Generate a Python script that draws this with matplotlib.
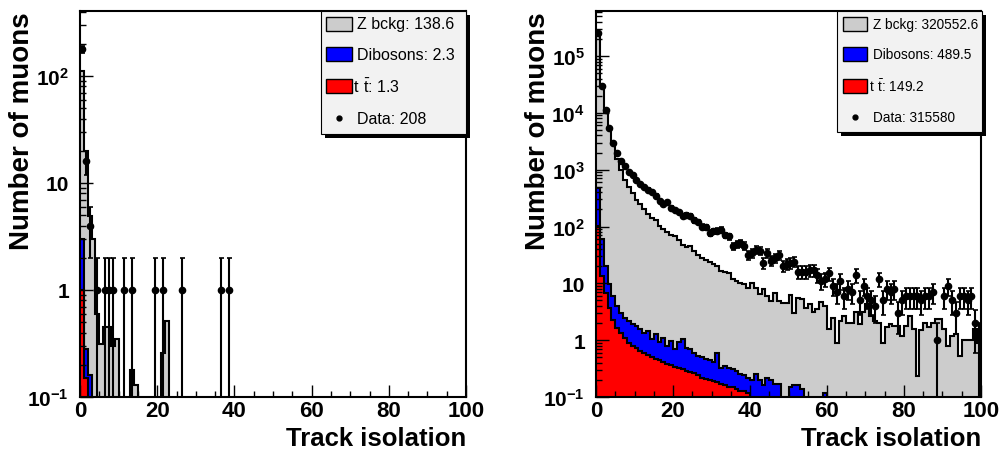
import numpy as np
import matplotlib
matplotlib.use('Agg')
import matplotlib.pyplot as plt
from matplotlib.patches import Rectangle
from matplotlib.lines import Line2D
from matplotlib.ticker import MultipleLocator, LogLocator, NullFormatter, FuncFormatter

plt.rcParams['font.family'] = ['Liberation Sans', 'DejaVu Sans']
plt.rcParams['font.weight'] = 'bold'
plt.rcParams['mathtext.fontset'] = 'custom'
plt.rcParams['mathtext.rm'] = 'Liberation Sans:normal'
plt.rcParams['mathtext.bf'] = 'Liberation Sans:bold'

edges = np.arange(0, 101, 1.0)   # 100 bins, width 1

# ---- left panel (sparse: bin index -> value)
left_data_bins = [0, 1, 2, 4, 6, 7, 8, 11, 13, 19, 21, 26, 36, 38]
left_data_vals = [177, 16, 4, 1, 1, 1, 1, 1, 1, 1, 1, 1, 1, 1]
left_z_bins = [0, 1, 2, 3, 4, 5, 6, 7, 8, 9, 13, 14, 21, 22]
left_z_vals = [108, 19.7, 4.8, 3.0, 0.6, 0.31, 0.45, 0.45, 0.3, 0.35, 0.18, 0.13, 0.26, 0.51]
left_dib_bins = [0, 1, 2]
left_dib_vals = [2.0, 0.13, 0.16]
left_tt_bins = [0, 1]
left_tt_vals = [1.0, 0.15]

# ---- right panel (all 100 bins)
right_data = [253000, 29700, 11300, 5400, 2930, 1960, 1440, 1140, 900, 816,
              667, 560, 496, 446, 400, 350, 278, 253, 267, 212,
              193, 178, 156, 162, 152, 129, 120, 100, 98, 77,
              83, 85, 87, 70, 67, 45, 49, 51, 46, 31,
              34, 39, 37, 23, 34, 25, 28, 31, 20, 22,
              23, 24, 16, 16, 16, 17, 17, 14, 11, 12,
              15, 9, 7, 11, 6, 8, 7, 14, 5, 9,
              6, 5, 4, 12, 5, 8, 7, 8, 3, 5,
              6, 6, 6, 6, 5, 6, 6, 7, 1, 0,
              6, 9, 5, 3, 6, 6, 5, 6, 2, 1]
right_zbckg = [264800, 30940, 10080, 5390, 2994, 1536, 997, 664, 494, 387,
               295, 251, 203, 167, 141, 128, 100, 90, 78, 71,
               67, 58, 47, 43, 44, 37, 30.5, 27.5, 25.5, 23.3,
               21.1, 19.4, 16.2, 15.4, 15.1, 11.5, 10.7, 10.0, 9.4, 7.9,
               9.8, 7.9, 6.2, 7.9, 5.8, 4.7, 6.7, 4.7, 4.6, 4.5,
               6.2, 2.9, 5.4, 5.1, 3.7, 4.3, 3.1, 3.6, 4.7, 3.9,
               1.6, 2.5, 0.9, 2.2, 2.7, 2.0, 2.0, 3.1, 1.9, 3.1,
               4.3, 2.7, 2.2, 2.0, 0.9, 1.7, 1.9, 1.8, 1.8, 1.2,
               1.8, 2.7, 1.6, 0.23, 1.5, 2.0, 1.7, 2.0, 2.4, 2.4,
               1.6, 0.8, 1.2, 1.3, 0.53, 1.0, 1.0, 1.0, 1.6, 0.9]
right_dibosons = [375, 47.5, 13.1, 5.9, 3.7, 2.3, 1.7, 1.4, 1.3, 1.1,
                  1.06, 0.91, 0.76, 0.9, 0.54, 0.8, 0.47, 0.69, 0.42, 0.62,
                  0.36, 0.59, 0.73, 0.45, 0.43, 0.34, 0.29, 0.28, 0.25, 0.24,
                  0.22, 0.41, 0.15, 0.19, 0.18, 0.16, 0.15, 0.12, 0.11, 0.10,
                  0.2, 0.25, 0.2, 0.16, 0.22, 0.2, 0.17, 0.17, 0, 0,
                  0.15, 0.16, 0.16, 0.14, 0, 0, 0, 0, 0, 0.12] + [0] * 40
right_ttbar = [101, 13.5, 6.9, 3.7, 2.3, 1.67, 1.36, 1.1, 0.9, 0.8,
               0.72, 0.65, 0.6, 0.55, 0.5, 0.47, 0.44, 0.41, 0.38, 0.36,
               0.34, 0.32, 0.31, 0.29, 0.27, 0.26, 0.24, 0.22, 0.21, 0.2,
               0.19, 0.18, 0.17, 0.16, 0.15, 0.15, 0.14, 0.13, 0.13, 0.12] + [0] * 60


def sparse(bins, vals):
    h = np.zeros(len(edges) - 1)
    h[bins] = vals
    return h


W, H = 1007, 456


def fig_rect(fig, x0, y0, x1, y1, **kw):
    # pixel coords measured from top-left
    r = Rectangle((x0 / W, 1 - y1 / H), (x1 - x0) / W, (y1 - y0) / H,
                  transform=fig.transFigure, **kw)
    fig.add_artist(r)


def ytick_fmt(v, pos):
    e = int(round(np.log10(v)))
    if e == 0:
        return '1'
    if e == 1:
        return '10'
    return r'$\mathbf{10^{%d}}$' % e


def draw_panel(ax, z, dib, tt, data, ymax):
    floor = 1e-3
    s1 = np.maximum(tt, floor)
    s2 = np.maximum(tt + dib, floor)
    s3 = np.maximum(tt + dib + z, floor)
    for s, col in ((s3, '#cccccc'), (s2, '#0000ff'), (s1, '#ff0000')):
        ax.stairs(s, edges, baseline=floor, fill=True, color=col, lw=0)
        ax.stairs(s, edges, baseline=None, color='black', lw=1.5)

    data = np.asarray(data, float)
    cen = 0.5 * (edges[:-1] + edges[1:])
    m = data > 0
    err = np.sqrt(data[m])
    ax.errorbar(cen[m], data[m], yerr=err, fmt='o', color='black', ms=4.5,
                elinewidth=1.5, capsize=1.8, capthick=1.2, zorder=3)

    ax.set_xlim(0, 100)
    ax.set_yscale('log')
    ax.set_ylim(0.1, ymax)
    ax.xaxis.set_major_locator(MultipleLocator(20))
    ax.xaxis.set_minor_locator(MultipleLocator(5))
    ax.yaxis.set_major_locator(LogLocator(base=10, numticks=20))
    ax.yaxis.set_minor_locator(LogLocator(base=10, subs=np.arange(2, 10), numticks=20))
    ax.yaxis.set_minor_formatter(NullFormatter())
    ax.yaxis.set_major_formatter(FuncFormatter(ytick_fmt))
    ax.tick_params(which='both', direction='in', top=False, right=False, width=1)
    ax.tick_params(which='major', length=9)
    ax.tick_params(which='minor', length=4.5)
    ax.tick_params(axis='x', labelsize=16, pad=2)
    ax.tick_params(axis='y', labelsize=15, pad=8)
    for sp in ax.spines.values():
        sp.set_linewidth(1.5)
    ax.text(1.0, -0.075, 'Track isolation', transform=ax.transAxes,
            ha='right', va='top', fontsize=18.5, fontweight='bold')
    ax.text(-0.15, 1.0, 'Number of muons', transform=ax.transAxes,
            ha='center', va='top', rotation=90, fontsize=20, fontweight='bold')


def draw_legend(fig, x0, x1, y1, sw_x0, sw_x1, txt_x, rows, labels, fs):
    y0 = 12
    fig_rect(fig, x0 + 4, y0 + 4, x1 + 4, y1 + 4, facecolor='black', edgecolor='none', zorder=5)
    fig_rect(fig, x0, y0, x1, y1, facecolor='#f2f2f2', edgecolor='black', lw=0.8, zorder=6)
    cols = ['#cccccc', '#0000ff', '#ff0000']
    for i, col in enumerate(cols):
        yc = rows[i]
        fig_rect(fig, sw_x0, yc - 7, sw_x1, yc + 7, facecolor=col, edgecolor='black', lw=1.0, zorder=7)
    mx = 0.5 * (sw_x0 + sw_x1)
    fig.add_artist(Line2D([mx / W], [1 - rows[3] / H], marker='o', ms=3.5, color='black',
                          transform=fig.transFigure, zorder=7))
    for i, lab in enumerate(labels):
        xx = txt_x - (4 if i == 2 else 0)
        fig.text(xx / W, 1 - rows[i] / H, lab, ha='left', va='center', fontsize=fs,
                 fontweight='normal', zorder=8)


fig = plt.figure(figsize=(W / 100, H / 100), dpi=100)
axL = fig.add_axes([80 / W, 1 - 398 / H, 386 / W, 386 / H])
axR = fig.add_axes([596 / W, 1 - 398 / H, 385 / W, 386 / H])

draw_panel(axL, sparse(left_z_bins, left_z_vals), sparse(left_dib_bins, left_dib_vals),
           sparse(left_tt_bins, left_tt_vals), sparse(left_data_bins, left_data_vals), 405)
draw_panel(axR, np.array(right_zbckg, float), np.array(right_dibosons, float),
           np.array(right_ttbar, float), right_data, 6.2e5)

draw_legend(fig, 321, 466, 135, 326, 352, 357, [25, 55, 87, 119],
            ['Z bckg: 138.6', 'Dibosons: 2.3', r'$\mathrm{t\ \bar{t}}$: 1.3', 'Data: 208'], 11.5)
draw_legend(fig, 837, 982, 133, 843, 867, 873, [25, 55, 87, 118],
            ['Z bckg: 320552.6', 'Dibosons: 489.5', r'$\mathrm{t\ \bar{t}}$: 149.2', 'Data: 315580'], 9.8)

fig.savefig('out.png', dpi=100)
